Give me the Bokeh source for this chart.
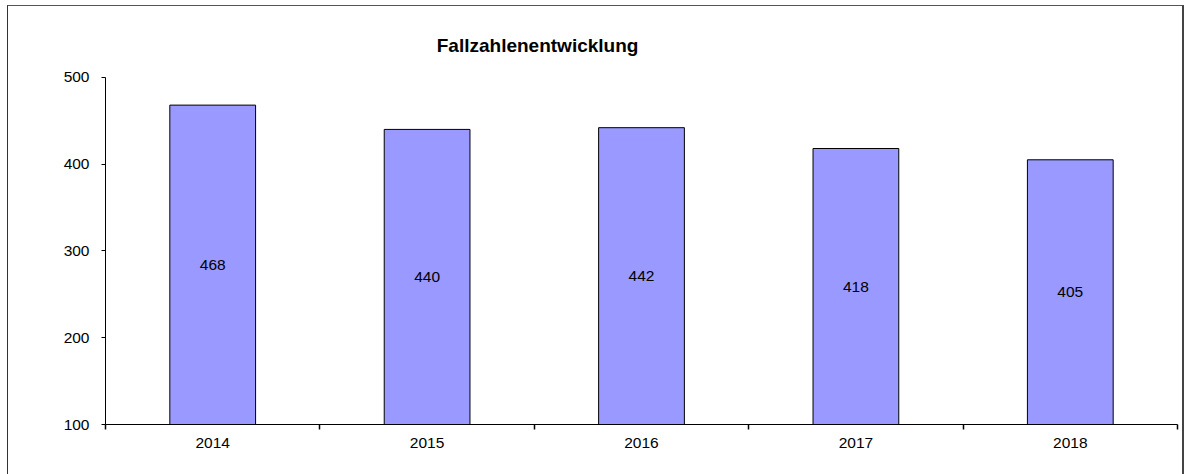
from bokeh.plotting import figure
from bokeh.models import FixedTicker, Label
from bokeh.embed import file_html
from bokeh.resources import INLINE

years = [2014, 2015, 2016, 2017, 2018]
cases = [468, 440, 442, 418, 405]
y_ticks = [100, 200, 300, 400, 500]
title_text = "Fallzahlenentwicklung"

FONT = "Liberation Sans"

# the frame extends above 500 so that the title (a label) is not clipped;
# the y axis itself is bounded to 100..500
p = figure(width=1177, height=469, output_backend="svg", toolbar_location=None,
           x_range=(years[0] - 0.5, years[-1] + 0.5), y_range=(y_ticks[0], 565.5),
           min_border_left=97, min_border_right=8, min_border_top=14, min_border_bottom=51,
           styles={"border-left": "1px solid #333333", "border-top": "1px solid #555555",
                   "border-right": "2px solid #444444",
                   "margin-left": "7px", "margin-top": "5px"})
p.outline_line_color = None
p.xgrid.grid_line_color = None
p.ygrid.grid_line_color = None
p.background_fill_color = "white"
p.border_fill_color = "white"

bottoms = [y_ticks[0]] * len(years)
p.vbar(x=years, top=cases, bottom=bottoms, width=0.4,
       fill_color="#9999FF", line_color="#000000", line_width=1)

mids = [(b + c) / 2 for b, c in zip(bottoms, cases)]
p.text(x=years, y=mids, text=[str(c) for c in cases], text_align="center",
       text_baseline="middle", text_font_size="15.5px", text_color="#000000",
       text_font={"value": FONT})

# x axis
p.xaxis.ticker = FixedTicker(ticks=years, minor_ticks=[y - 0.5 for y in years] + [years[-1] + 0.5])
p.xaxis.major_tick_out = 0
p.xaxis.major_tick_in = 0
p.xaxis.minor_tick_out = 5
p.xaxis.minor_tick_in = 0
p.xaxis.minor_tick_line_color = "#000000"
p.xaxis.minor_tick_line_width = 1.5
p.xaxis.major_label_standoff = 8
# y axis
p.yaxis.ticker = FixedTicker(ticks=y_ticks, minor_ticks=[])
p.yaxis.bounds = (y_ticks[0], y_ticks[-1])
p.yaxis.major_tick_out = 4
p.yaxis.major_tick_in = 0
p.yaxis.major_label_standoff = 12
for ax in (p.xaxis, p.yaxis):
    ax.axis_line_color = "#000000"
    ax.axis_line_width = 1
    ax.major_tick_line_color = "#000000"
    ax.major_label_text_font = FONT
    ax.major_label_text_font_size = "15.5px"
    ax.major_label_text_color = "#000000"

title = Label(x=2015.045, y=536.6, text=title_text, text_align="left",
              text_baseline="alphabetic", text_font=FONT, text_font_size="19px",
              text_font_style="bold", text_color="#000000")
p.add_layout(title)

open("out.html", "w").write(file_html(p, INLINE))
